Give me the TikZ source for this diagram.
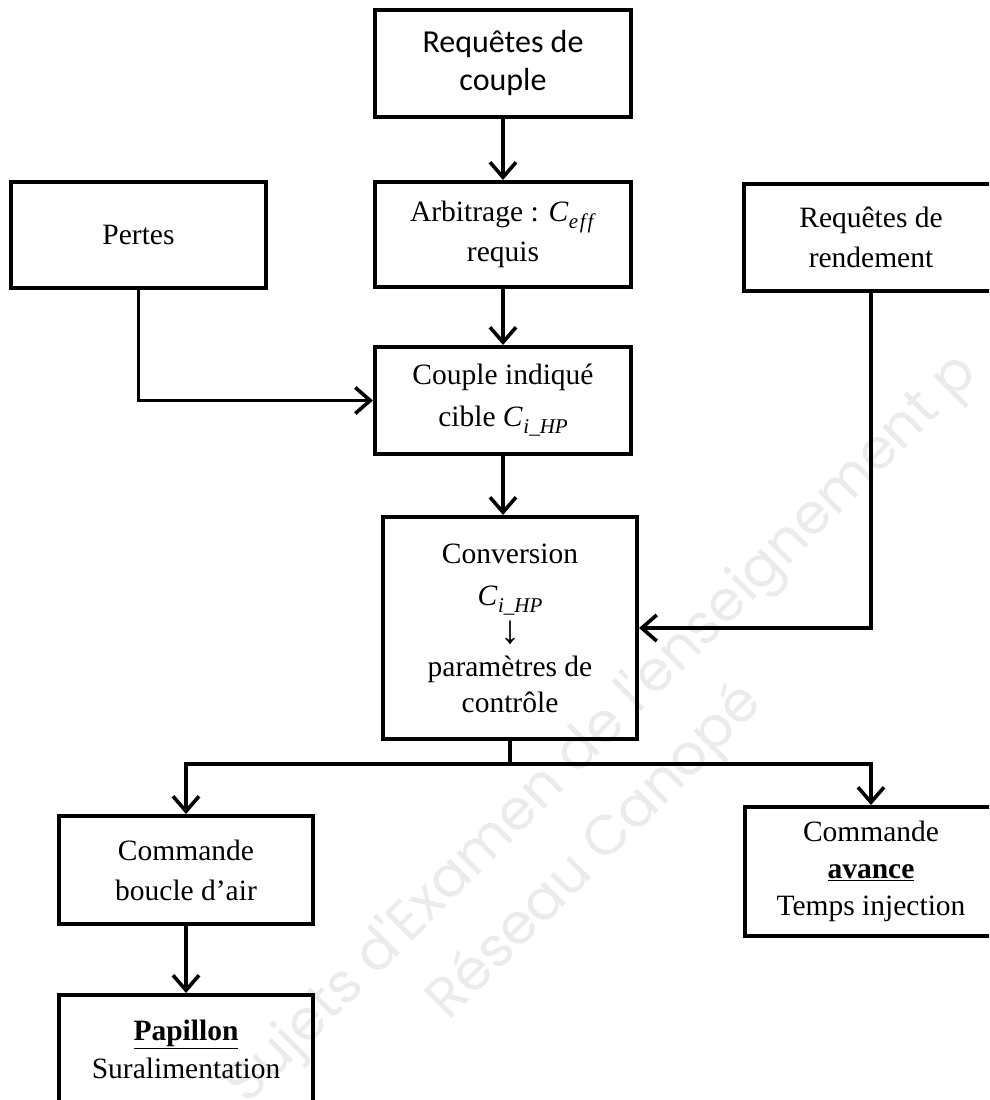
\documentclass[tikz,border=0pt]{standalone}
\usepackage{fontspec}
\setmainfont{Liberation Serif}
\newfontfamily\calibrifont{Carlito}
\newfontfamily\wmfont{Poppins}
\usetikzlibrary{arrows.meta}
\newcommand\Csub[1]{\textit{C}\kern0.5pt\raisebox{-7pt}{\fontsize{21}{21}\selectfont\textit{#1}}}
\begin{document}
\begin{tikzpicture}[x=1pt,y=-1pt,
  blk/.style={draw, line width=4pt, align=center, inner sep=0pt,
    minimum width=254pt, font=\fontsize{29.5}{40}\selectfont},
  conn/.style={line width=3.6pt},
  arr/.style={conn, -{Straight Barb[length=15pt,width=26pt,line width=3.6pt]}},
  wm/.style={text=black!8, font=\wmfont\fontsize{56}{60}\selectfont, rotate=45}
]
\useasboundingbox (0,0) rectangle (989,1100);
\clip (0,0) rectangle (989,1100);
% watermark
\node[wm] (wmA) at (603,730) {Sujets d'Examen de l'enseignement p};
\node[wm] (wmB) at (596,853) {Réseau Canopé};
% boxes
\node[blk, minimum width=256pt, minimum height=107pt, font=\calibrifont\fontsize{32}{38}\selectfont] (RC) at (503,63) {Requêtes de\\couple};
\node[blk, minimum width=256pt, minimum height=105pt] (Arb) at (503,234.5) {Arbitrage : \Csub{e\kern1.5pt f\kern2pt f}\\requis};
\node[blk, minimum width=255pt, minimum height=106pt] (Pertes) at (138.5,235) {Pertes};
\node[blk, minimum height=107pt] (Rend) at (871,237.5) {Requêtes de\\rendement};
\node[blk, minimum width=256pt, minimum height=107pt] (Couple) at (503,400.5) {Couple indiqué\\[2pt]cible \Csub{i\_HP}};
\node[blk, minimum height=222pt, font=\fontsize{29.5}{36}\selectfont] (Conv) at (510,628) {Conversion\\[6pt]\Csub{i\_HP}\\[2pt]{\fontsize{40}{36}\selectfont ↓}\\[-3pt]paramètres de\\contrôle};
\node[blk, minimum height=108pt] (Boucle) at (186,870) {Commande\\boucle d’air};
\node[blk, minimum height=108pt, font=\fontsize{29.5}{38}\selectfont] (Pap) at (186,1049) {\underline{\textbf{Papillon}}\\Suralimentation};
\node[blk, minimum width=252pt, minimum height=129pt, font=\fontsize{29.5}{37}\selectfont] (Avance) at (871,871.5) {Commande\\\underline{\textbf{avance}}\\Temps injection};
% connectors
\draw[arr] (RC.south) -- (Arb.north);
\draw[arr] (Arb.south) -- (Couple.north);
\draw[arr] (Pertes.south) |- (Couple.west);
\draw[arr] (Couple.south) -- (Couple.south |- Conv.north);
\draw[arr] (Rend.south) |- (Conv.east);
\path (Conv.south) ++(0,23) coordinate (split);
\draw[conn] (Conv.south) -- (split);
\draw[arr] (split) -| (Boucle.north);
\draw[arr] (split) -| (Avance.north);
\draw[arr] (Boucle.south) -- (Pap.north);
\end{tikzpicture}
\end{document}
